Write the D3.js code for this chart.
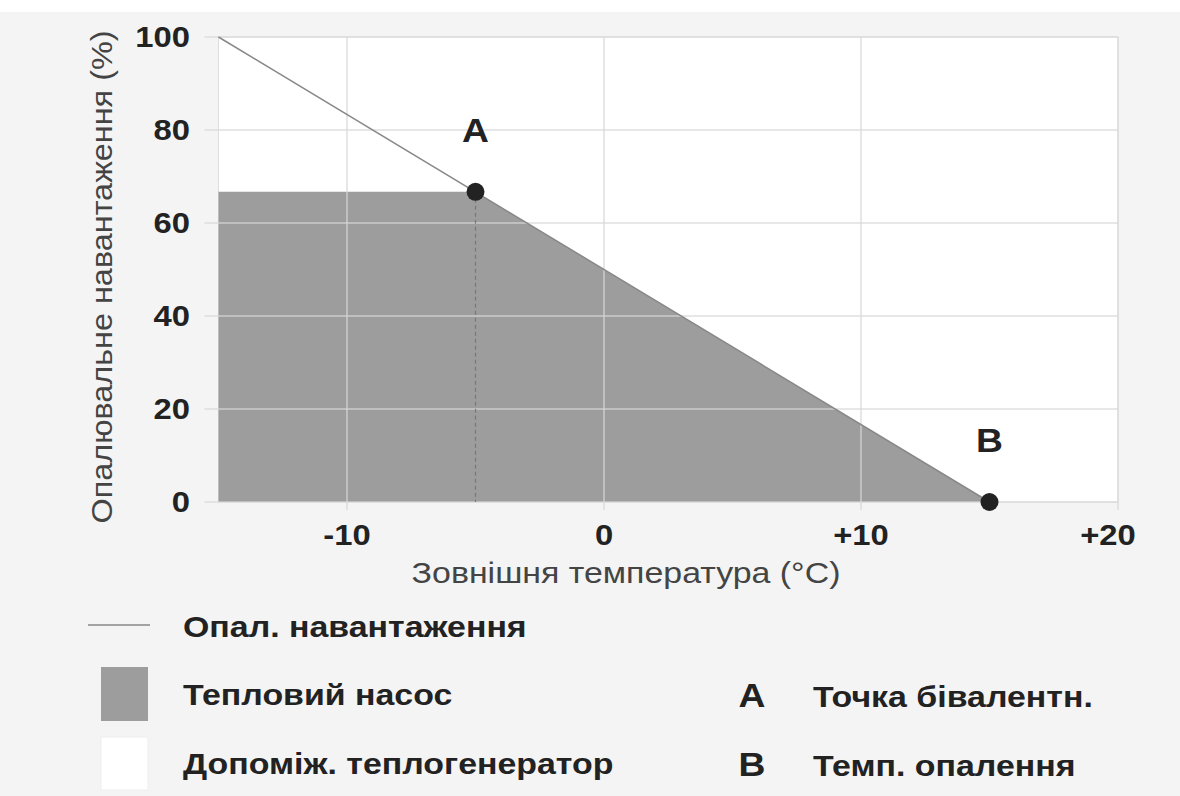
<!DOCTYPE html>
<html>
<head>
  <meta charset="utf-8"/>
  <title>Бівалентна точка</title>
  <script src="https://d3js.org/d3.v7.min.js"></script>
<style>
body { margin: 0; background: #f4f4f4; }
svg { display: block; }
text { font-family: "Liberation Sans", Arial, sans-serif; }
.tick-label { font-size: 29px; font-weight: bold; fill: #222; }
.axis-title { font-size: 30px; fill: #444; }
.legend { font-size: 30px; font-weight: bold; fill: #222; }
.letter { font-size: 33px; font-weight: bold; fill: #222; }
</style>
</head>
<body>
<svg id="chart" width="1180" height="796"></svg>
<script>
// heating load line and points
var loadTemps = [-15, 15];
var loadValues = [100, 0];
var pointNames = ["A", "B"];
var pointTemps = [-5, 15];
var pointValues = [66.7, 0];
var xTicks = [-10, 0, 10, 20];
var xTickLabels = ["-10", "0", "+10", "+20"];
var yTicks = [0, 20, 40, 60, 80, 100];
var legendItems = ["Опал. навантаження", "Тепловий насос", "Допоміж. теплогенератор"];
var pointLegend = ["Точка бівалентн.", "Темп. опалення"];

var svg = d3.select("#chart");
svg.append("rect").attr("width", 1180).attr("height", 12).attr("fill", "#fff");

var mLeft = 218.5, mRight = 1118, mTop = 37, mBottom = 502;
var x = d3.scaleLinear().domain([-15, 20]).range([mLeft, mRight]);
var y = d3.scaleLinear().domain([0, 100]).range([mBottom, mTop]);

// the source text is a little wider than Arial, so stretch it
var sx = 1.13;
function place(px, py) { return "translate(" + px + "," + py + ") scale(" + sx + ",1)"; }

svg.append("rect")
    .attr("x", mLeft).attr("y", mTop)
    .attr("width", mRight - mLeft).attr("height", mBottom - mTop)
    .attr("fill", "#fff").attr("stroke", "#ddd");

// heat pump area: flat at bivalent point, then along load line
var area = [[-15, pointValues[0]], [pointTemps[0], pointValues[0]], [loadTemps[1], loadValues[1]]];
svg.append("path")
    .attr("d", d3.area().x(function(d) { return x(d[0]); }).y0(y(0)).y1(function(d) { return y(d[1]); })(area))
    .attr("fill", "#9d9d9d");

// grid
svg.selectAll(".hg").data(yTicks).enter().append("line")
    .attr("x1", mLeft - 14).attr("x2", mRight)
    .attr("y1", function(d) { return y(d); }).attr("y2", function(d) { return y(d); })
    .attr("stroke", "#d8d8d8").attr("stroke-width", 1.5).attr("opacity", 0.8);
svg.selectAll(".vg").data(xTicks).enter().append("line")
    .attr("x1", function(d) { return x(d); }).attr("x2", function(d) { return x(d); })
    .attr("y1", mTop).attr("y2", mBottom + 8)
    .attr("stroke", "#d8d8d8").attr("stroke-width", 1.5).attr("opacity", 0.8);

svg.selectAll(".yl").data(yTicks).enter().append("text")
    .attr("class", "tick-label")
    .attr("transform", function(d) { return place(190, y(d) + 10); })
    .attr("text-anchor", "end").text(function(d) { return d; });
svg.selectAll(".xl").data(xTicks).enter().append("text")
    .attr("class", "tick-label")
    .attr("transform", function(d, i) { return place(x(d) - (i == 3 ? 10 : 0), 545); })
    .attr("text-anchor", "middle").text(function(d, i) { return xTickLabels[i]; });

// load line
var line = d3.line().x(function(d, i) { return x(loadTemps[i]); }).y(function(d) { return y(d); });
svg.append("path").attr("d", line(loadValues))
    .attr("fill", "none").attr("stroke", "#888").attr("stroke-width", 1.5);

// dashed drop from A
svg.append("line")
    .attr("x1", x(pointTemps[0])).attr("x2", x(pointTemps[0]))
    .attr("y1", y(pointValues[0])).attr("y2", y(0))
    .attr("stroke", "#777").attr("stroke-width", 1.2).attr("stroke-dasharray", "4,3");

svg.selectAll(".pt").data(pointTemps).enter().append("circle")
    .attr("cx", function(d) { return x(d); })
    .attr("cy", function(d, i) { return y(pointValues[i]); })
    .attr("r", 9).attr("fill", "#222");
svg.selectAll(".pn").data(pointTemps).enter().append("text")
    .attr("class", "letter")
    .attr("transform", function(d, i) { return place(x(d), y(pointValues[i]) - 50); })
    .attr("text-anchor", "middle").text(function(d, i) { return pointNames[i]; });

svg.append("text").attr("class", "axis-title")
    .attr("transform", place(626, 583)).attr("text-anchor", "middle")
    .text("Зовнішня температура (°C)");
svg.append("text").attr("class", "axis-title")
    .attr("transform", "translate(112,277) rotate(-90) scale(1.08,1)").attr("text-anchor", "middle")
    .text("Опалювальне навантаження (%)");

// legend
svg.append("line").attr("x1", 88).attr("x2", 150).attr("y1", 625).attr("y2", 625)
    .attr("stroke", "#888").attr("stroke-width", 1.5);
svg.append("rect").attr("x", 101).attr("y", 667).attr("width", 47).attr("height", 54).attr("fill", "#9d9d9d");
svg.append("rect").attr("x", 101).attr("y", 737).attr("width", 47).attr("height", 53)
    .attr("fill", "#fff").attr("stroke", "#eee");
var legendY = [637, 705, 774];
svg.selectAll(".lg").data(legendItems).enter().append("text")
    .attr("class", "legend")
    .attr("transform", function(d, i) { return place(183, legendY[i]); })
    .text(function(d) { return d; });
svg.selectAll(".pl").data(pointLegend).enter().append("text")
    .attr("class", "letter")
    .attr("transform", function(d, i) { return place(752, legendY[i + 1] + 2); })
    .attr("text-anchor", "middle").text(function(d, i) { return pointNames[i]; });
svg.selectAll(".plt").data(pointLegend).enter().append("text")
    .attr("class", "legend")
    .attr("transform", function(d, i) { return place(813, legendY[i + 1] + 2); })
    .text(function(d) { return d; });
</script>
</body>
</html>
